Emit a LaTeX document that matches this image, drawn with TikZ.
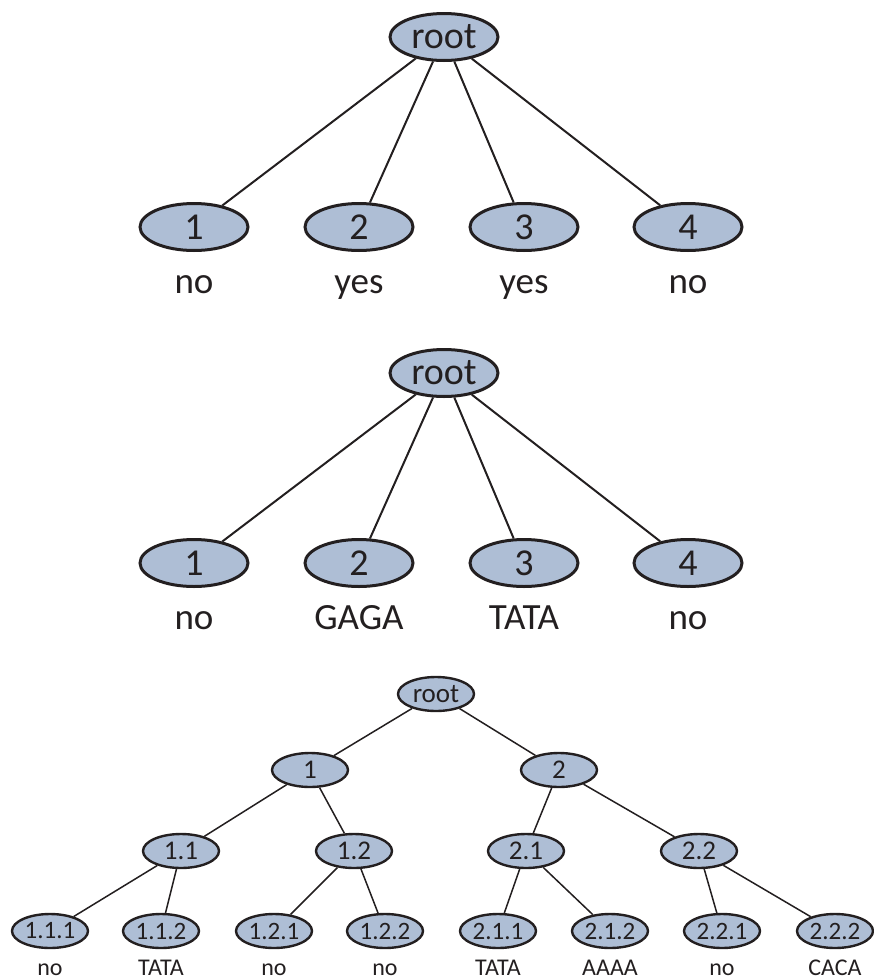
\documentclass[tikz,border=0pt]{standalone}
\usepackage{fontspec}
\setmainfont{Carlito}
\usetikzlibrary{shapes.geometric}
\definecolor{nodefill}{RGB}{174,190,213}
\definecolor{ink}{RGB}{35,31,32}
\begin{document}
\begin{tikzpicture}[x=1pt,y=-1pt,
  bignode/.style={ellipse, draw=ink, fill=nodefill, line width=3pt,
    minimum width=108pt, minimum height=47pt, inner sep=0pt,
    font=\fontsize{38}{38}\selectfont, text=ink},
  midnode/.style={ellipse, draw=ink, fill=nodefill, line width=2.4pt,
    minimum width=76pt, minimum height=34pt, inner sep=0pt,
    font=\fontsize{27}{27}\selectfont, text=ink},
  leafnode/.style={midnode, font=\fontsize{25}{25}\selectfont},
  biglabel/.style={anchor=base, inner sep=0pt, text=ink,
    font=\fontsize{37}{37}\selectfont},
  smalllabel/.style={anchor=base, inner sep=0pt, text=ink,
    font=\fontsize{24}{24}\selectfont},
  bigedge/.style={draw=ink, line width=2pt},
  smalledge/.style={draw=ink, line width=1.5pt}]
\useasboundingbox (0,0) rectangle (874,980);

% first tree: yes / no answers
\node[bignode] (a) at (444,37) {root};
\node[bignode] (a1) at (194,227) {1};
\node[bignode] (a2) at (359,227) {2};
\node[bignode] (a3) at (524,227) {3};
\node[bignode] (a4) at (688,227) {4};
\foreach \c in {a1,a2,a3,a4} \draw[bigedge] (a) -- (\c);
\node[biglabel] (la1) at (194,293) {no};
\node[biglabel] (la2) at (359,293) {yes};
\node[biglabel] (la3) at (524,293) {yes};
\node[biglabel] (la4) at (688,293) {no};

% second tree: matched words
\node[bignode] (b) at (444,373) {root};
\node[bignode] (b1) at (194,563) {1};
\node[bignode] (b2) at (359,563) {2};
\node[bignode] (b3) at (524,563) {3};
\node[bignode] (b4) at (688,563) {4};
\foreach \c in {b1,b2,b3,b4} \draw[bigedge] (b) -- (\c);
\node[biglabel] (lb1) at (194,629) {no};
\node[biglabel] (lb2) at (359,629) {GAGA};
\node[biglabel] (lb3) at (524,629) {TATA};
\node[biglabel] (lb4) at (688,629) {no};

% third tree: binary hierarchy
\node[midnode] (r) at (436,694) {root};
\node[midnode] (r1) at (310,770) {1};
\node[midnode] (r2) at (559,770) {2};
\node[midnode] (r11) at (181,851) {1.1};
\node[midnode] (r12) at (354,851) {1.2};
\node[midnode] (r21) at (526,851) {2.1};
\node[midnode] (r22) at (699,851) {2.2};
\node[leafnode] (r111) at (50,931) {1.1.1};
\node[leafnode] (r112) at (161,931) {1.1.2};
\node[leafnode] (r121) at (274,931) {1.2.1};
\node[leafnode] (r122) at (385,931) {1.2.2};
\node[leafnode] (r211) at (498,931) {2.1.1};
\node[leafnode] (r212) at (610,931) {2.1.2};
\node[leafnode] (r221) at (722,931) {2.2.1};
\node[leafnode] (r222) at (835,931) {2.2.2};
\draw[smalledge] (r) -- (r1);
\draw[smalledge] (r) -- (r2);
\draw[smalledge] (r1) -- (r11);
\draw[smalledge] (r1) -- (r12);
\draw[smalledge] (r2) -- (r21);
\draw[smalledge] (r2) -- (r22);
\draw[smalledge] (r11) -- (r111);
\draw[smalledge] (r11) -- (r112);
\draw[smalledge] (r12) -- (r121);
\draw[smalledge] (r12) -- (r122);
\draw[smalledge] (r21) -- (r211);
\draw[smalledge] (r21) -- (r212);
\draw[smalledge] (r22) -- (r221);
\draw[smalledge] (r22) -- (r222);
\node[smalllabel] (l111) at (50,975) {no};
\node[smalllabel] (l112) at (161,975) {TATA};
\node[smalllabel] (l121) at (274,975) {no};
\node[smalllabel] (l122) at (385,975) {no};
\node[smalllabel] (l211) at (498,975) {TATA};
\node[smalllabel] (l212) at (610,975) {AAAA};
\node[smalllabel] (l221) at (722,975) {no};
\node[smalllabel] (l222) at (835,975) {CACA};
\end{tikzpicture}
\end{document}
